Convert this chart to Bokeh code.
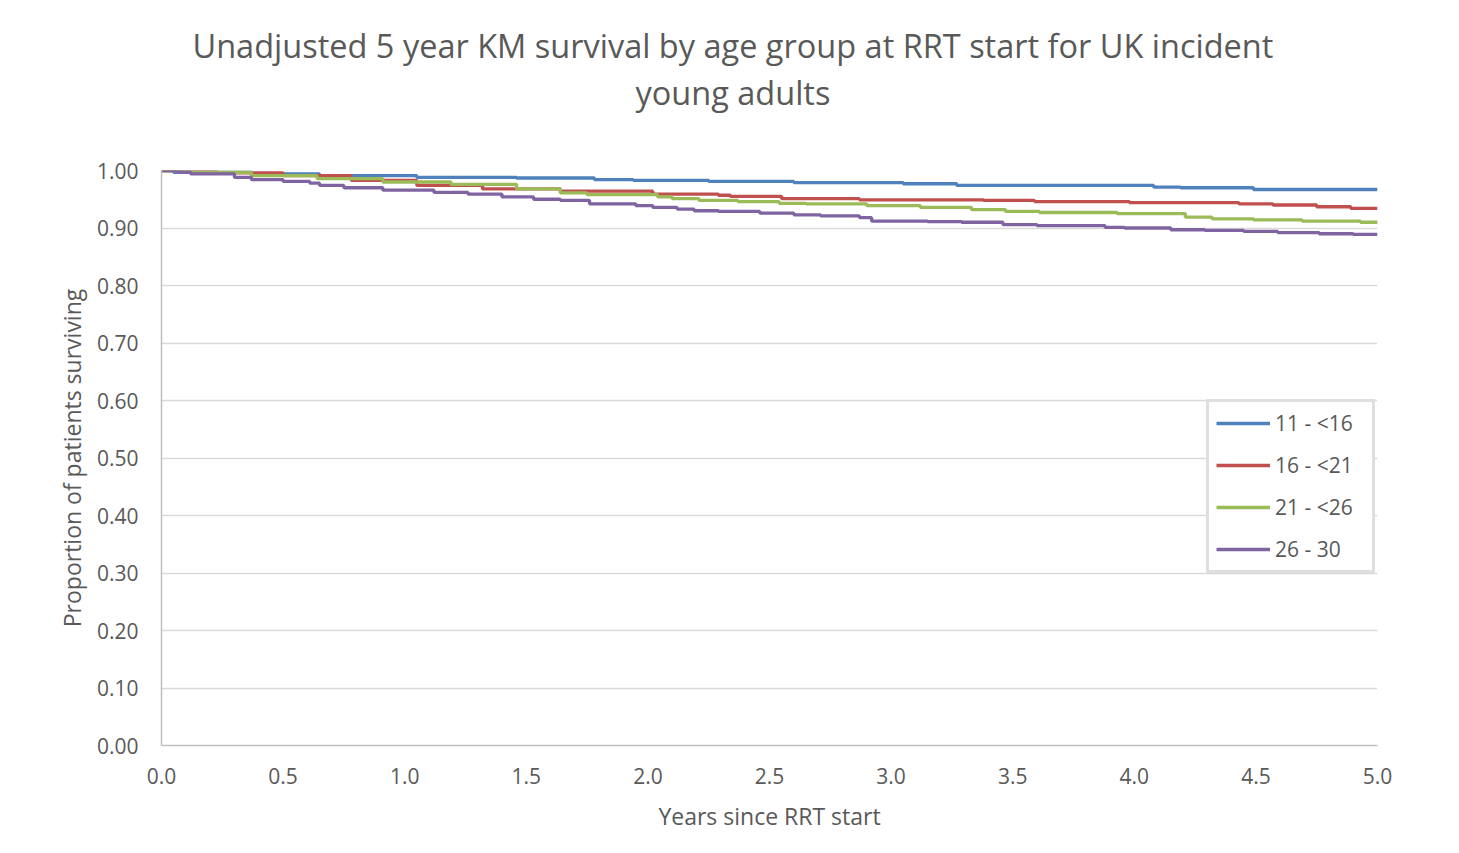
from bokeh.plotting import figure
from bokeh.models import Range1d, Legend, LegendItem, FixedTicker, NumeralTickFormatter, Title
from bokeh.embed import file_html
from bokeh.resources import INLINE

# ---- data ----
series_names = ["11 - <16", "16 - <21", "21 - <26", "26 - 30"]
colors = ["#4f81bd", "#c0504d", "#9bbb59", "#8064a2"]

t_a = [0.0, 0.05, 0.37, 0.65, 1.05, 1.46, 1.78, 1.94, 2.25, 2.60, 3.05, 3.27, 4.08, 4.19, 4.49, 5.0]
s_a = [1.000, 0.997, 0.994, 0.991, 0.988, 0.987, 0.984, 0.983, 0.981, 0.979, 0.977, 0.974, 0.971, 0.970, 0.967, 0.967]

t_b = [0.0, 0.10, 0.23, 0.50, 0.78, 1.05, 1.32, 1.64, 2.02, 2.29, 2.34, 2.55, 2.87, 3.38, 3.59, 3.98, 4.43, 4.57, 4.75, 4.89, 5.0]
s_b = [1.000, 0.998, 0.996, 0.991, 0.983, 0.974, 0.968, 0.964, 0.959, 0.957, 0.955, 0.951, 0.949, 0.948, 0.946, 0.944, 0.942, 0.940, 0.937, 0.934, 0.934]

t_c = [0.0, 0.09, 0.37, 0.64, 0.91, 1.19, 1.46, 1.64, 1.75, 2.04, 2.10, 2.21, 2.37, 2.54, 2.65, 2.90, 3.12, 3.33, 3.47, 3.61, 3.93, 4.21, 4.32, 4.49, 4.69, 4.93, 5.0]
s_c = [1.000, 0.997, 0.991, 0.986, 0.980, 0.976, 0.968, 0.961, 0.958, 0.954, 0.951, 0.948, 0.946, 0.943, 0.942, 0.939, 0.936, 0.932, 0.929, 0.927, 0.925, 0.919, 0.916, 0.914, 0.912, 0.910, 0.909]

t_d = [0.0, 0.07, 0.12, 0.30, 0.37, 0.50, 0.61, 0.65, 0.75, 0.91, 1.12, 1.26, 1.40, 1.53, 1.64, 1.76, 1.95, 2.02, 2.12, 2.19, 2.29, 2.46, 2.60, 2.71, 2.87, 2.92, 3.15, 3.29, 3.46, 3.60, 3.88, 3.96, 4.15, 4.29, 4.45, 4.59, 4.76, 4.90, 5.0]
s_d = [1.000, 0.997, 0.994, 0.988, 0.984, 0.981, 0.978, 0.974, 0.970, 0.966, 0.962, 0.959, 0.954, 0.950, 0.948, 0.942, 0.939, 0.936, 0.933, 0.930, 0.929, 0.926, 0.923, 0.921, 0.918, 0.912, 0.911, 0.910, 0.906, 0.904, 0.901, 0.900, 0.897, 0.896, 0.894, 0.892, 0.890, 0.889, 0.889]

x_ticks = [0.0, 0.5, 1.0, 1.5, 2.0, 2.5, 3.0, 3.5, 4.0, 4.5, 5.0]
y_ticks = [0.0, 0.1, 0.2, 0.3, 0.4, 0.5, 0.6, 0.7, 0.8, 0.9, 1.0]

title_lines = ["Unadjusted 5 year KM survival by age group at RRT start for UK incident", "young adults"]

FONT = "Open Sans"
TXT = "#595959"

p = figure(width=1443, height=837, output_backend="svg", toolbar_location=None,
           x_range=Range1d(0, 5), y_range=Range1d(0, 1),
           min_border_left=161, min_border_right=66, min_border_top=170, min_border_bottom=92)
p.outline_line_color = None
p.background_fill_color = "white"
p.border_fill_color = "white"
p.title = None

# axes
p.xaxis.ticker = FixedTicker(ticks=x_ticks)
p.yaxis.ticker = FixedTicker(ticks=y_ticks)
p.xaxis.formatter = NumeralTickFormatter(format="0.0")
p.yaxis.formatter = NumeralTickFormatter(format="0.00")
for ax in (p.xaxis[0], p.yaxis[0]):
    ax.axis_line_color = "#bfbfbf"
    ax.axis_line_width = 1.5
    ax.major_tick_line_color = None
    ax.minor_tick_line_color = None
    ax.major_label_text_font = FONT
    ax.major_label_text_font_size = "21px"
    ax.major_label_text_color = TXT
    ax.axis_label_text_font = FONT
    ax.axis_label_text_font_size = "23px"
    ax.axis_label_text_color = TXT
    ax.axis_label_text_font_style = "normal"
p.xaxis.major_label_standoff = 16
p.yaxis.major_label_standoff = 17
p.xaxis.axis_label = "Years since RRT start"
p.yaxis.axis_label = "Proportion of patients surviving"
p.xaxis.axis_label_standoff = 13
p.yaxis.axis_label_standoff = 6

p.xgrid.grid_line_color = None
p.ygrid.grid_line_color = "#d9d9d9"
p.ygrid.grid_line_width = 1.5

# series
renderers = []
for t, s, c in zip([t_a, t_b, t_c, t_d], [s_a, s_b, s_c, s_d], colors):
    r = p.step(t, s, mode="after", line_color=c, line_width=3.3)
    renderers.append(r)

legend = Legend(items=[LegendItem(label=n, renderers=[r]) for n, r in zip(series_names, renderers)],
                location=(1045, 172), margin=0, padding=7, spacing=14,
                glyph_width=54, glyph_height=20, label_height=20, label_width=90, label_standoff=5,
                label_text_font=FONT, label_text_font_size="21px", label_text_color=TXT,
                border_line_color="#bfbfbf", border_line_width=3,
                background_fill_color="white", background_fill_alpha=1.0)
p.add_layout(legend)

# title: a thin spacer closest to the plot, then the two title lines
p.add_layout(Title(text=" ", align="left", text_font=FONT, text_font_size="1px",
                   text_color="white", standoff=53), "above")
p.add_layout(Title(text=title_lines[1], align="left", text_font=FONT, text_font_size="32.5px",
                   text_font_style="normal", text_color=TXT, standoff=0, offset=474), "above")
p.add_layout(Title(text=title_lines[0], align="left", text_font=FONT, text_font_size="32.5px",
                   text_font_style="normal", text_color=TXT, standoff=0, offset=31), "above")

open("out.html", "w").write(file_html(p, INLINE))
